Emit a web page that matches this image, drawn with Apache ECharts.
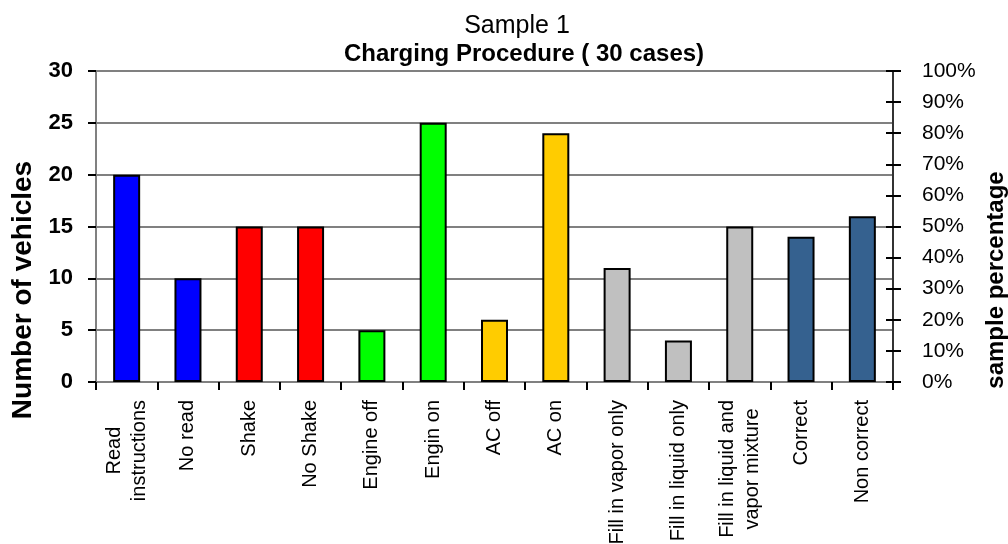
<!DOCTYPE html>
<html>
<head>
<meta charset="utf-8">
<style>
  html, body { margin: 0; padding: 0; background: #ffffff; }
  #chart { width: 1008px; height: 544px; }
</style>
<script src="https://cdn.jsdelivr.net/npm/echarts@6/dist/echarts.min.js"></script>
</head>
<body>
<div id="chart"></div>
<script>
// Charging procedure survey, sample 1 (30 cases)
const categories = [
  'Read\ninstructions', 'No read', 'Shake', 'No Shake', 'Engine off', 'Engin on',
  'AC off', 'AC on', 'Fill in vapor only', 'Fill in liquid only',
  'Fill in liquid and\nvapor mixture', 'Correct', 'Non correct'
];
const vehicles = [20, 10, 15, 15, 5, 25, 6, 24, 11, 4, 15, 14, 16];
const countTicks = [0, 5, 10, 15, 20, 25, 30];
const percentTicks = [0, 0.1, 0.2, 0.3, 0.4, 0.5, 0.6, 0.7, 0.8, 0.9, 1];

// one fill colour per bar (pairs of related answers share a colour)
const barColors = [
  '#0000FF', '#0000FF', '#FF0000', '#FF0000', '#00FF00', '#00FF00',
  '#FFCC00', '#FFCC00', '#C0C0C0', '#C0C0C0', '#C0C0C0', '#35618F', '#35618F'
];

const FONT = '"Liberation Sans", Arial, sans-serif';

const chart = echarts.init(document.getElementById('chart'), null, { renderer: 'canvas' });

chart.setOption({
  backgroundColor: '#ffffff',
  animation: false,
  textStyle: { fontFamily: FONT },
  title: [
    {
      text: 'Sample 1',
      left: 512, top: 9, textAlign: 'center',
      textStyle: { fontFamily: FONT, fontSize: 25, fontWeight: 'normal', color: '#000' }
    },
    {
      text: 'Charging Procedure ( 30 cases)',
      left: 519, top: 37, textAlign: 'center',
      textStyle: { fontFamily: FONT, fontSize: 24, fontWeight: 'bold', color: '#000' }
    }
  ],
  grid: {
    left: 96, right: 115, top: 71, bottom: 162,
    containLabel: false,
    outerBoundsMode: 'none'
  },
  xAxis: {
    type: 'category',
    data: categories,
    boundaryGap: true,
    axisLine: { show: true, lineStyle: { color: '#808080', width: 2 } },
    axisTick: { show: true, length: 8, lineStyle: { color: '#000', width: 2 } },
    axisLabel: {
      interval: 0,
      rotate: 90,
      margin: 18,
      color: '#000',
      fontFamily: FONT,
      fontSize: 20,
      lineHeight: 25,
      formatter: v => v.split('\n').map(s => '{c|' + s + '}').join('\n'),
      rich: { c: { align: 'center', fontFamily: FONT, fontSize: 20, lineHeight: 25, color: '#000' } }
    }
  },
  yAxis: [
    {
      type: 'value',
      min: countTicks[0],
      max: countTicks[countTicks.length - 1],
      interval: countTicks[1] - countTicks[0],
      position: 'left',
      axisLine: { show: true, lineStyle: { color: '#808080', width: 2 } },
      axisTick: { show: true, length: 8, lineStyle: { color: '#000', width: 2 } },
      axisLabel: { margin: 23, color: '#000', fontFamily: FONT, fontSize: 22, fontWeight: 'bold' },
      splitLine: { show: true, lineStyle: { color: '#808080', width: 2 } }
    },
    {
      type: 'value',
      min: percentTicks[0],
      max: percentTicks[percentTicks.length - 1],
      interval: percentTicks[1] - percentTicks[0],
      position: 'right',
      axisLine: { show: true, lineStyle: { color: '#333', width: 2 } },
      axisTick: { show: true, length: 8, lineStyle: { color: '#000', width: 2 } },
      axisLabel: {
        margin: 29, color: '#000', fontFamily: FONT, fontSize: 21,
        formatter: v => Math.round(v * 100) + '%'
      },
      splitLine: { show: false }
    },
    {
      // inner half of the right-hand cross ticks
      type: 'value',
      min: percentTicks[0],
      max: percentTicks[percentTicks.length - 1],
      interval: percentTicks[1] - percentTicks[0],
      position: 'right',
      axisLine: { show: false },
      axisTick: { show: true, inside: true, length: 7, lineStyle: { color: '#000', width: 2 } },
      axisLabel: { show: false },
      splitLine: { show: false }
    }
  ],
  graphic: [
    {
      type: 'text',
      x: 23, y: 290, rotation: Math.PI / 2,
      style: {
        text: 'Number of vehicles',
        font: 'bold 28px ' + FONT,
        fill: '#000', textAlign: 'center', textVerticalAlign: 'middle'
      }
    },
    {
      type: 'text',
      x: 996, y: 280, rotation: Math.PI / 2,
      style: {
        text: 'sample percentage',
        font: 'bold 24px ' + FONT,
        fill: '#000', textAlign: 'center', textVerticalAlign: 'middle'
      }
    }
  ],
  series: [
    {
      type: 'bar',
      yAxisIndex: 0,
      barWidth: 27,
      data: vehicles.map((v, i) => ({
        value: v,
        itemStyle: { color: barColors[i], borderColor: '#000', borderWidth: 2 }
      }))
    }
  ]
});
</script>
</body>
</html>
